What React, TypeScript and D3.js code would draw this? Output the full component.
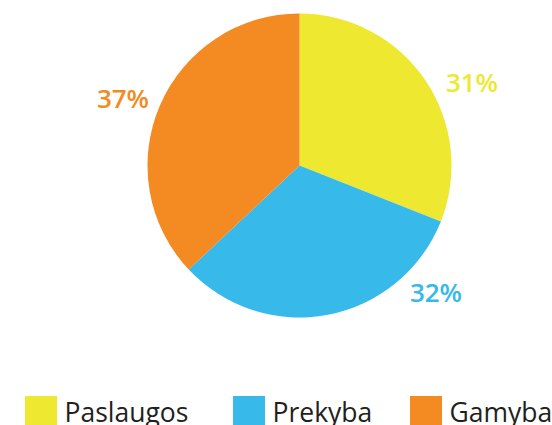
import React from "react";
import * as d3 from "d3";

const categories = ["Paslaugos", "Prekyba", "Gamyba"];
const values = [31, 32, 37];
const labels = ["31%", "32%", "37%"];
const colors = ["#EEE831", "#37B9E9", "#F38A22"];
const labelPos: [number, number][] = [[472, 92], [436, 302], [123, 108]];
const legendX = [25, 233, 410];

export default function App() {
  const W = 552, H = 425;
  const cx = 299.5, cy = 165.5, r = 152;
  const pie = d3.pie<number>().sort(null).value((d) => d);
  const arcs = pie(values);
  const arc = d3.arc<d3.PieArcDatum<number>>().innerRadius(0).outerRadius(r);
  return (
    <svg width={W} height={H} style={{ position: "absolute", left: 0, top: 0 }} fontFamily="'Open Sans', sans-serif">
      <rect width={W} height={H} fill="#fff" />
      <g transform={`translate(${cx},${cy})`}>
        {arcs.map((a, i) => (
          <path key={i} d={arc(a) || ""} fill={colors[i]} />
        ))}
      </g>
      {labels.map((t, i) => (
        <text key={i} x={labelPos[i][0]} y={labelPos[i][1]} textAnchor="middle" fontSize={26} fontWeight={600} fill={colors[i]}>
          {t}
        </text>
      ))}
      {categories.map((c, i) => (
        <g key={c}>
          <rect x={legendX[i]} y={396} width={32} height={32} fill={colors[i]} />
          <text x={legendX[i] + 39.5} y={422} fontSize={26.5} fill="#231F20">{c}</text>
        </g>
      ))}
    </svg>
  );
}
